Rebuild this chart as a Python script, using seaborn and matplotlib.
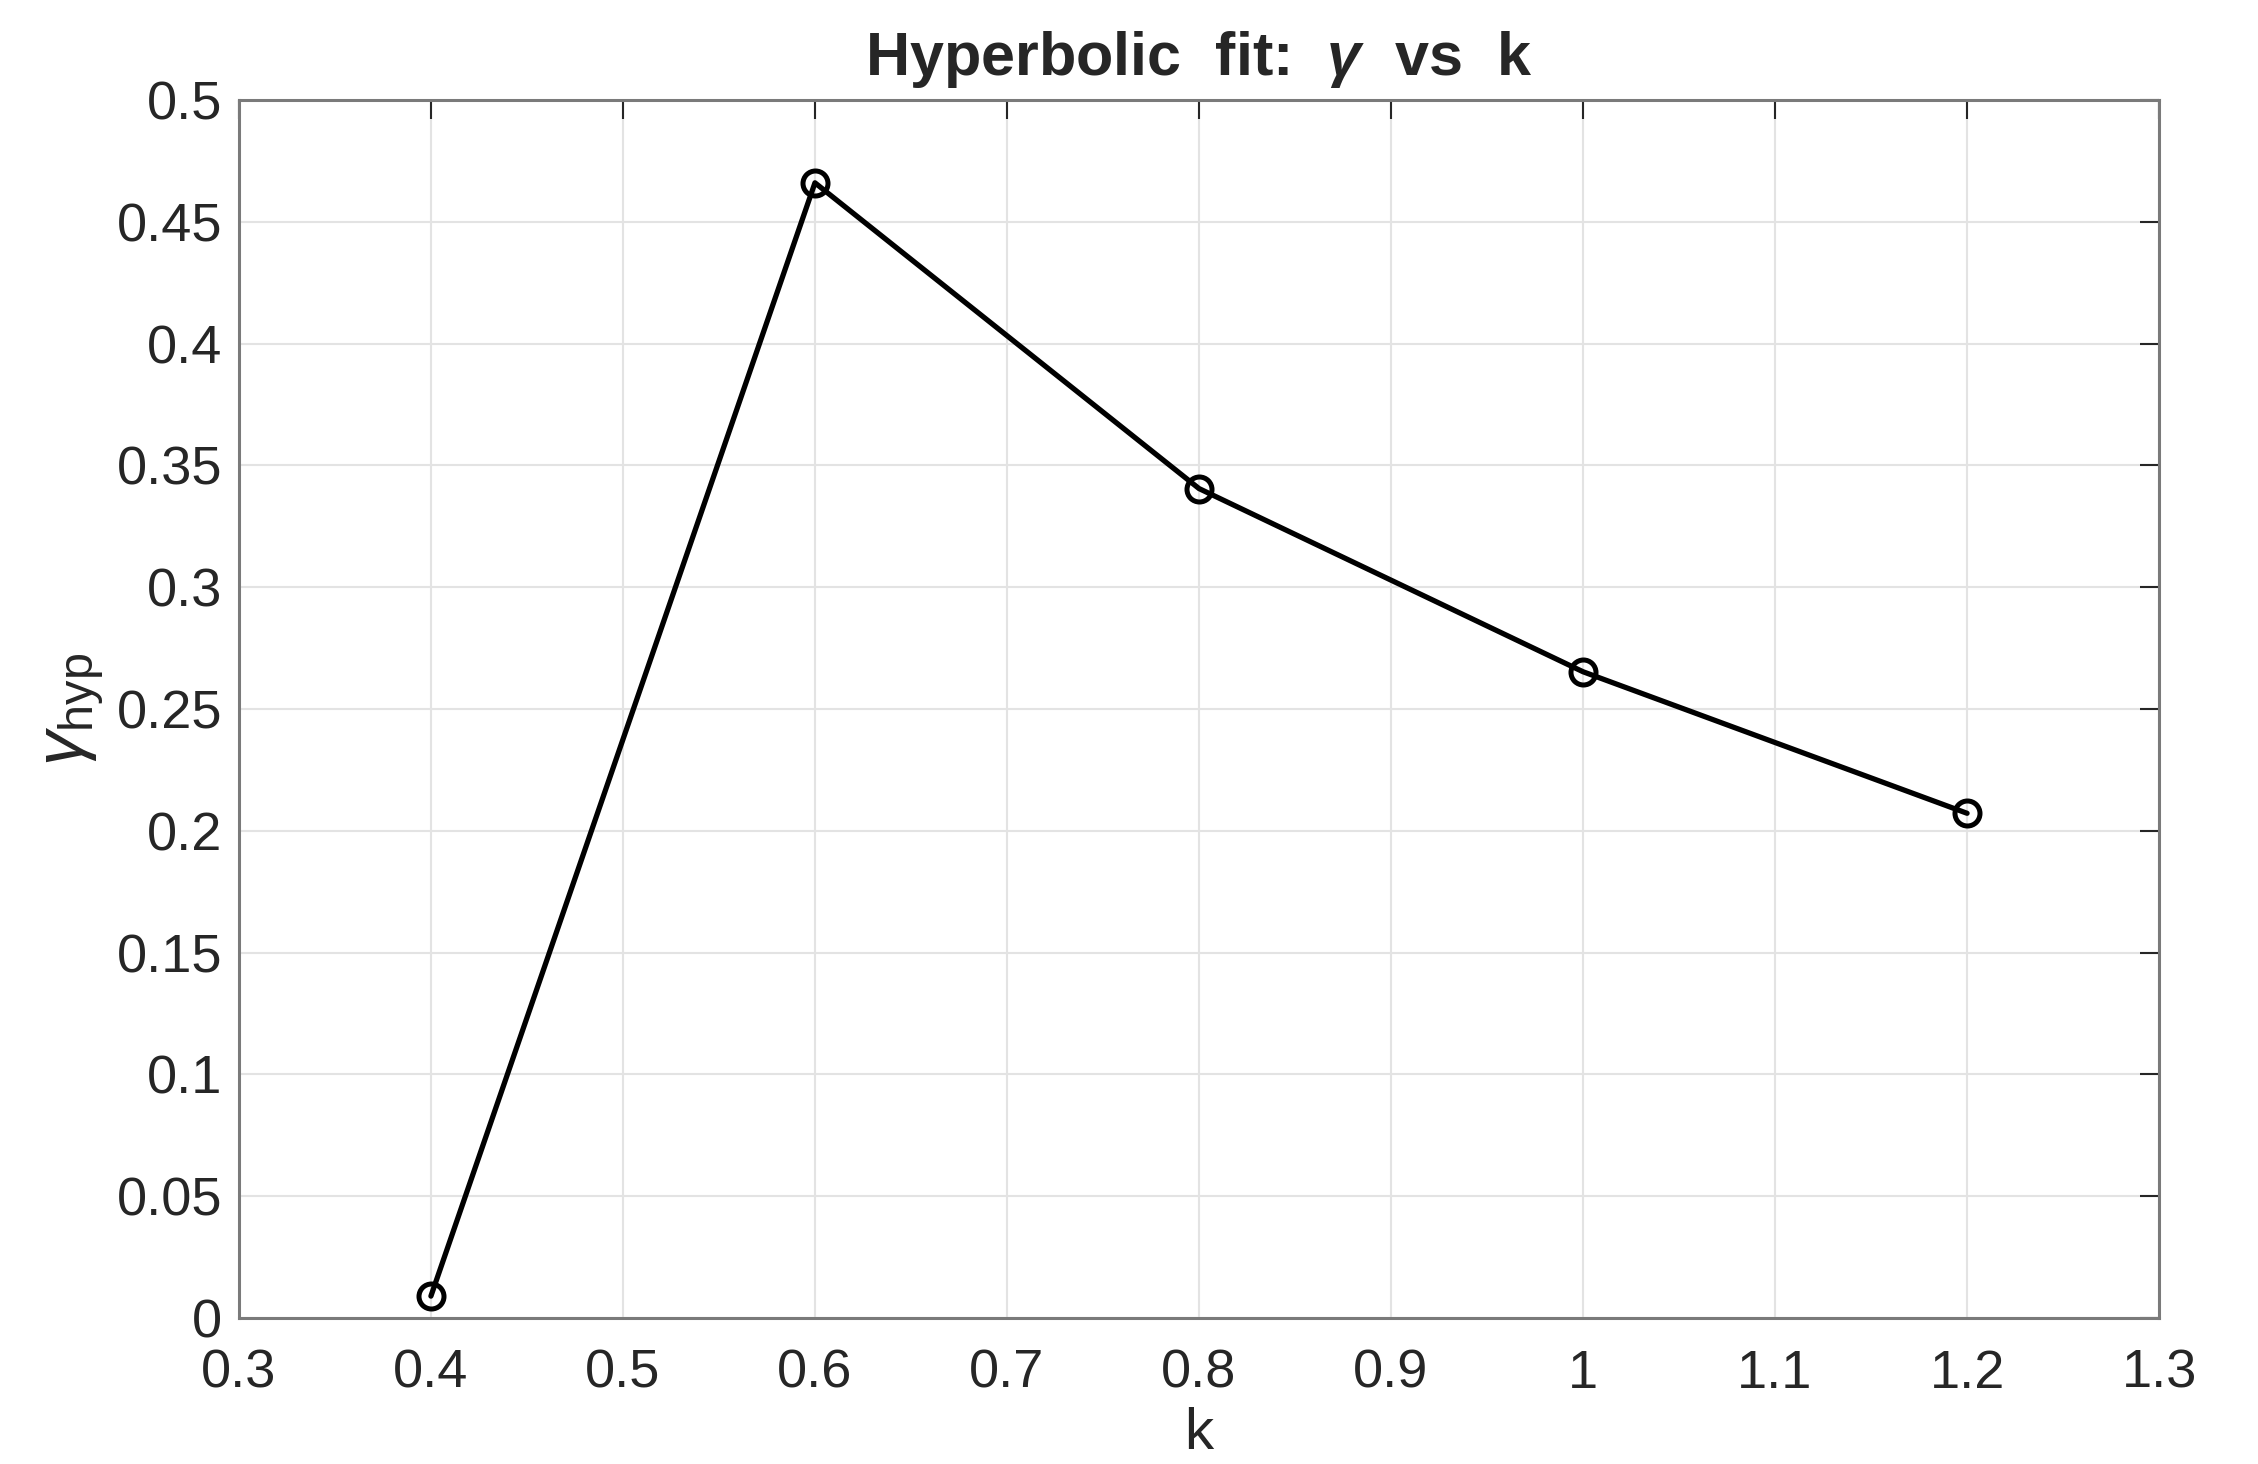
import matplotlib
matplotlib.use("Agg")
import matplotlib.pyplot as plt
import seaborn as sns
import pandas as pd

k_values = [0.4, 0.6, 0.8, 1.0, 1.2]
gamma_hyp = [0.009, 0.466, 0.3405, 0.2653, 0.2072]
x_ticks = [0.3, 0.4, 0.5, 0.6, 0.7, 0.8, 0.9, 1.0, 1.1, 1.2, 1.3]
x_tick_labels = ["0.3", "0.4", "0.5", "0.6", "0.7", "0.8", "0.9", "1", "1.1", "1.2", "1.3"]
y_ticks = [0, 0.05, 0.1, 0.15, 0.2, 0.25, 0.3, 0.35, 0.4, 0.45, 0.5]
y_tick_labels = ["0", "0.05", "0.1", "0.15", "0.2", "0.25", "0.3", "0.35", "0.4", "0.45", "0.5"]

sns.set_theme(style="white")
plt.rcParams['font.family'] = ['Liberation Sans', 'DejaVu Sans']
plt.rcParams['mathtext.fontset'] = 'custom'
plt.rcParams['mathtext.rm'] = 'Liberation Sans'
plt.rcParams['mathtext.it'] = 'Liberation Sans:italic'
plt.rcParams['mathtext.bf'] = 'Liberation Sans:bold:italic'

df = pd.DataFrame({"k": k_values, "gamma": gamma_hyp})

fig = plt.figure(figsize=(22.58, 14.64), dpi=100)
ax = fig.add_axes([0.1058, 0.0997, 0.8504, 0.8320])

sns.lineplot(data=df, x="k", y="gamma", ax=ax, color="black", linewidth=3.8,
             marker="o", markersize=18, markerfacecolor="none",
             markeredgecolor="black", markeredgewidth=3.6, zorder=5)

ax.set_xlim(0.3, 1.3)
ax.set_ylim(0, 0.5)
ax.set_xticks(x_ticks)
ax.set_xticklabels(x_tick_labels)
ax.set_yticks(y_ticks)
ax.set_yticklabels(y_tick_labels)

ax.grid(True, color="#e3e3e3", linewidth=1.5)
ax.set_axisbelow(True)
for s in ax.spines.values():
    s.set_visible(True)
    s.set_color("#7a7a7a")
    s.set_linewidth(2.2)

ax.tick_params(axis="both", which="major", direction="in", length=14, width=1.5,
               color="#262626", labelsize=39, labelcolor="#262626",
               top=True, right=True)
ax.tick_params(axis="x", pad=22)
ax.tick_params(axis="y", pad=12)

ax.set_xlabel("k", fontsize=42, color="#262626", labelpad=6)
ax.set_ylabel(r"$\gamma_{\mathrm{hyp}}$", fontsize=50, color="#262626", labelpad=8)
ax.set_title(r"Hyperbolic  fit:  $\mathbf{\gamma}$  vs  k", fontsize=44, fontweight="bold",
             color="#262626", pad=18)

fig.savefig("out.png", dpi=100)
